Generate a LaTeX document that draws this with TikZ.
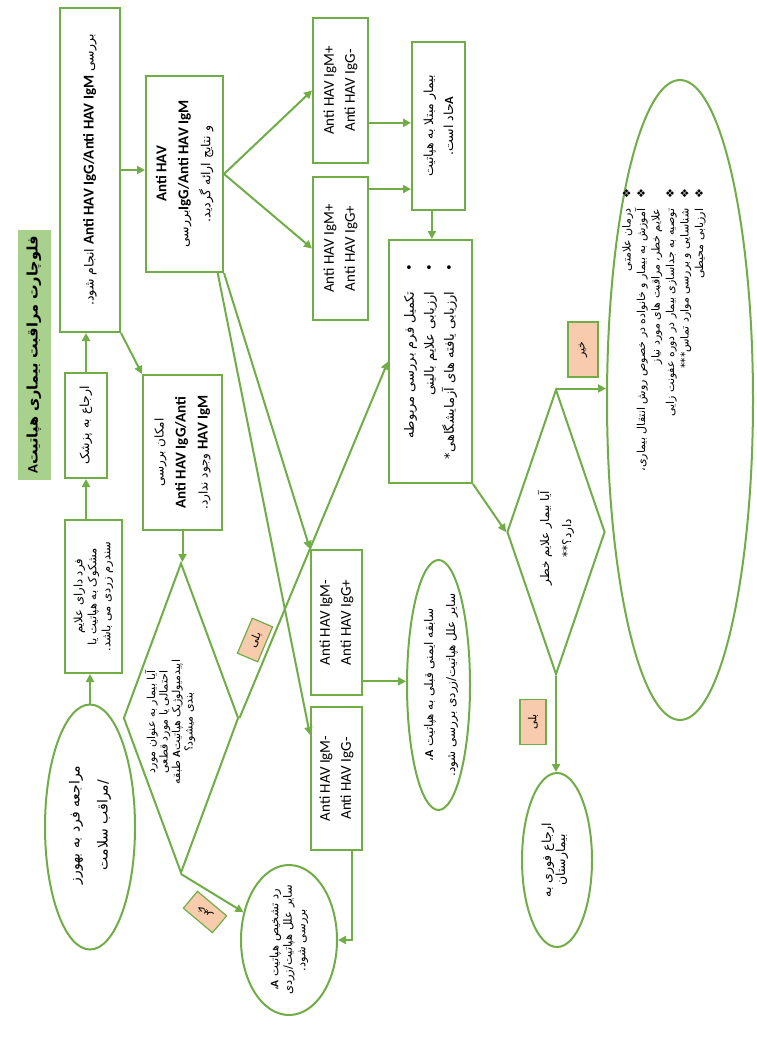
\documentclass[tikz,border=0pt]{standalone}
\usepackage{fontspec}
\setmainfont{Carlito}
\newfontfamily\farsi[Script=Arabic]{DejaVu Sans}
\TeXXeTstate=1
\usetikzlibrary{shapes.geometric,arrows.meta,calc}
\definecolor{gr}{HTML}{70AD47}
\definecolor{pk}{HTML}{F8CBAD}
\definecolor{tg}{HTML}{A9D18E}
\newcommand\fa[1]{{\farsi\beginR #1\endR}}
\newcommand\lt[1]{\beginL{\rmfamily #1}\endL}
\newcommand\fs[2]{\fontsize{#1}{#2}\selectfont}
\tikzset{
  box/.style={draw=gr, line width=2pt, rectangle, rotate=90, inner sep=2pt, align=center},
  ell/.style={draw=gr, line width=2pt, ellipse, rotate=90, inner sep=0pt},
  dia/.style={draw=gr, line width=2pt, diamond, rotate=90, inner sep=0pt},
  txt/.style={rotate=90, align=center, inner sep=0pt},
  lab/.style={draw=gr, fill=pk, line width=1.2pt, inner sep=1pt, font=\fs{11}{12}},
  arr/.style={draw=gr, line width=2pt, -{Triangle[length=8pt,width=8pt]}},
}
\begin{document}
\begin{tikzpicture}[x=1pt,y=-1pt]
\fill[white] (0,0) rectangle (757,1041);
\useasboundingbox (0,0) rectangle (757,1041);

% title
\node[box, draw=none, fill=tg, minimum width=250, minimum height=33, font=\fs{14.5}{16}] (T) at (34,355)
  {\fa{\bfseries فلوچارت مراقبت بیماری هپاتیت\lt{A}}};

% left column
\node[box, minimum width=324, minimum height=60, font=\fs{12.5}{14}] (B1) at (90,170)
  {\fa{بررسی \lt{\fs{15}{18}\bfseries Anti HAV IgG/Anti HAV IgM} انجام شود.}};
\node[box, minimum width=105, minimum height=42, font=\fs{12.5}{14}] (R1) at (86,425.5)
  {\fa{ارجاع به پزشک}};
\node[box, minimum width=153, minimum height=57, font=\fs{11.5}{14}] (F1) at (93.5,596.5)
  {\fa{فرد دارای علایم}\\ \fa{مشکوک به هپاتیت یا}\\ \fa{سندرم زردی می باشد.}};
\node[ell, minimum width=245, minimum height=90] (S) at (90,827) {};
\node[txt, font=\fs{14}{28}] (St) at (90,825) {\fa{مراجعه فرد به بهورز}\\ \fa{/مراقب سلامت}};

% second column
\node[box, minimum width=196, minimum height=77, font=\fs{12.5}{22}] (B2) at (184.5,174)
  {\lt{\fs{15}{18}\bfseries Anti HAV}\\ \fa{\lt{\fs{15}{18}\bfseries IgG/Anti HAV IgM}بررسی}\\ \fa{و نتایج ارائه گردید.}};
\node[box, minimum width=155, minimum height=79, font=\fs{12}{22}] (B3) at (182.5,452.5)
  {\fa{امکان بررسی}\\ \lt{\fs{15}{18}\bfseries Anti HAV IgG/Anti}\\ \fa{\lt{\fs{15}{18}\bfseries HAV IgM} وجود ندارد.}};
\node[dia, minimum width=310, minimum height=115] (Q1) at (181,718) {};
\node[txt, font=\fs{11}{12.5}] (Q1t) at (170,722)
  {\fa{آیا بیمار به عنوان مورد}\\ \fa{احتمالی یا مورد قطعی}\\ \fa{اپیدمیولوژیک هپاتیت\lt{\bfseries A} طبقه}\\ \fa{بندی میشود؟}};
\node[ell, minimum width=150, minimum height=96] (N1) at (289,940) {};
\node[txt, font=\fs{11.5}{13.5}] (N1t) at (289,940)
  {\fa{رد تشخیص هپاتیت \lt{\bfseries A}،}\\ \fa{سایر علل هپاتیت/زردی}\\ \fa{بررسی شود.}};

% antibody boxes
\node[box, minimum width=145, minimum height=55, font=\fs{15}{21}] (C1) at (340.5,90.5) {Anti HAV IgM+\\ Anti HAV IgG-};
\node[box, minimum width=143, minimum height=55, font=\fs{15}{21}] (C2) at (340.5,248.5) {Anti HAV IgM+\\ Anti HAV IgG+};
\node[box, minimum width=145, minimum height=51, font=\fs{15}{21}] (C3) at (336.5,622.5) {Anti HAV IgM-\\ Anti HAV IgG+};
\node[box, minimum width=143, minimum height=51, font=\fs{15}{21}] (C4) at (336.5,778.5) {Anti HAV IgM-\\ Anti HAV IgG-};

% right-middle
\node[box, minimum width=168, minimum height=53, font=\fs{12.5}{20}] (D1) at (438.5,126)
  {\fa{بیمار مبتلا به هپاتیت}\\ \fa{\lt{\bfseries A}حاد است.}};
\node[box, minimum width=243, minimum height=83, align=right, font=\fs{13}{20}] (E1) at (430.5,361.5)
  {\fa{•\hspace{20pt}تکمیل فرم بررسی مربوطه}\\ \fa{•\hspace{20pt}ارزیابی علایم بالینی}\\ \fa{•\hspace{20pt}ارزیابی یافته های آزمایشگاهی*}};
\node[ell, minimum width=250, minimum height=63] (N2) at (438.5,685) {};
\node[txt, font=\fs{12}{22}] (N2t) at (441,685)
  {\fa{سابقه ایمنی قبلی به هپاتیت \lt{\bfseries A}،}\\ \fa{سایر علل هپاتیت/زردی بررسی شود.}};

% right column
\node[dia, minimum width=285, minimum height=98] (Q2) at (556,532) {};
\node[txt, font=\fs{12}{22}] (Q2t) at (556,538) {\fa{آیا بیمار علایم خطر}\\ \fa{دارد؟**}};
\node[ell, minimum width=174, minimum height=70] (H) at (557,860) {};
\node[txt, font=\fs{12.5}{14}] (Ht) at (555,860) {\fa{ارجاع فوری به}\\ \fa{بیمارستان}};
\node[ell, minimum width=640, minimum height=146] (B4) at (680,400) {};
\node[txt, align=right, font=\fs{11}{14.5}] (B4t) at (664,330)
  {\fa{❖\hspace{10pt}درمان علامتی}\\
   \fa{❖\hspace{10pt}آموزش به بیمار و خانواده در خصوص روش انتقال بیماری،}\\
   \fa{\phantom{❖}\hspace{10pt}علایم خطر، مراقبت های مورد نیاز}\\
   \fa{❖\hspace{10pt}توصیه به جداسازی بیمار در دوره عفونت زایی}\\
   \fa{❖\hspace{10pt}شناسایی و بررسی موارد تماس***}\\
   \fa{❖\hspace{10pt}ارزیابی محیطی}};

% labels
\node[lab, rotate=67, minimum width=38, minimum height=22] (Y1) at (255,640) {\fa{بلی}};
\node[lab, rotate=140, minimum width=38, minimum height=22] (X1) at (205,912) {\fa{خیر}};
\node[lab, rotate=90, minimum width=55, minimum height=30] (X2) at (583,349.5) {\fa{خیر}};
\node[lab, rotate=90, minimum width=45, minimum height=26] (Y2) at (533,722) {\fa{بلی}};

% connectors
\draw[arr] (S.east) -- (S.east |- F1.west);
\draw[arr] (R1.west |- F1.east) -- (R1.west);
\draw[arr] (R1.east) -- (R1.east |- B1.west);
\draw[arr] (B1.south) -- (B1.south -| B2.north);
\draw[arr] (B1.south west) -- (B3.north east);
\draw[arr] (B2.south) -- (C1.north);
\draw[arr] (B2.south) -- (C2.north);
\draw[arr] (B2.south west) -- (C3.north east);
\coordinate (b2o) at ($(B2.south west)!0.08!(B2.north west)$);
\coordinate (c4i) at ($(C4.north east)!0.2!(C4.north west)$);
\draw[arr] (b2o) -- (c4i);
\coordinate (c1o) at ($(C1.south east)!0.72!(C1.south west)$);
\draw[arr] (c1o) -- (c1o -| D1.north);
\coordinate (c2o) at ($(C2.south east)!0.09!(C2.south west)$);
\draw[arr] (c2o) -- (c2o -| D1.north);
\coordinate (d1o) at ($(D1.north west)!0.38!(D1.south west)$);
\draw[arr] (d1o) -- (d1o |- E1.east);
\draw[arr] (B3.west) -- (B3.west |- Q1.east);
\draw[arr] (Q1.south) -- (E1.north);
\draw[arr] (Q1.west) -- (N1);
\coordinate (c3o) at ($(C3.south east)!0.9!(C3.south west)$);
\draw[arr] (c3o) -- (c3o -| N2.north);
\coordinate (c4o) at ($(C4.north west)!0.8!(C4.south west)$);
\draw[arr] (c4o) |- (N1.south);
\draw[arr] (E1.south west) -- (Q2.north);
\draw[arr] (Q2.east) -- (Q2.east -| B4.north);
\draw[arr] (Q2.west) -- (Q2.west |- H.east);
\end{tikzpicture}
\end{document}
